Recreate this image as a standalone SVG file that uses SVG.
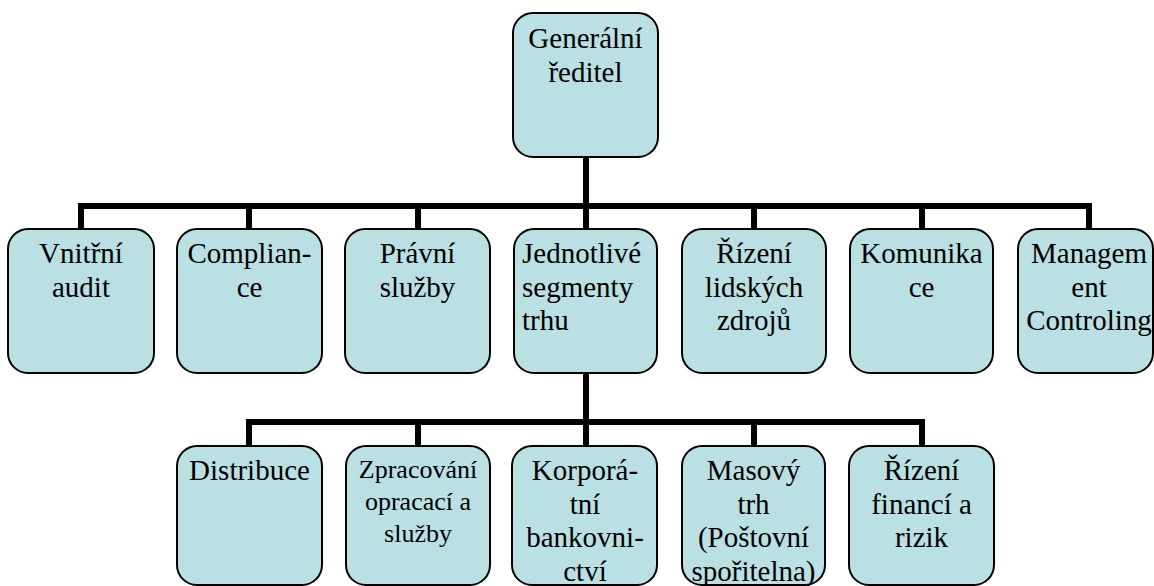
<svg xmlns="http://www.w3.org/2000/svg" width="1154" height="586" viewBox="0 0 1154 586" font-family="Liberation Serif, Times New Roman, serif">
<style>
.box{fill:#BBE0E3;stroke:#000;stroke-width:2}
.t{font-size:29px;fill:#000;text-anchor:middle}
.s{font-size:26px}
.l{text-anchor:start}
.c{fill:none;stroke:#000;stroke-width:6;stroke-linejoin:miter;stroke-linecap:butt}
</style>
<rect width="1154" height="586" fill="#fff"/>
<g id="connectors">
<path class="c" d="M586,157 V206"/>
<path class="c" d="M81,229 V206 H1089 V229"/>
<path class="c" d="M249,206 V229 M418,206 V229 M586,206 V229 M754,206 V229 M922,206 V229"/>
<path class="c" d="M586,373 V422"/>
<path class="c" d="M249,446 V422 H922 V446"/>
<path class="c" d="M418,422 V446 M586,422 V446 M754,422 V446"/>
</g>
<g id="n-reditel">
<rect class="box" x="513" y="13" width="145" height="144" rx="20"/>
<text class="t" x="585.5" y="48">Generální</text>
<text class="t" x="585.5" y="82">ředitel</text>
</g>
<g id="n-audit">
<rect class="box" x="8" y="229" width="146" height="144" rx="20"/>
<text class="t" x="81" y="263">Vnitřní</text>
<text class="t" x="81" y="297">audit</text>
</g>
<g id="n-compliance">
<rect class="box" x="177" y="229" width="145" height="144" rx="20"/>
<text class="t" x="249.5" y="263">Complian-</text>
<text class="t" x="249.5" y="297">ce</text>
</g>
<g id="n-pravni">
<rect class="box" x="345" y="229" width="145" height="144" rx="20"/>
<text class="t" x="417.5" y="263">Právní</text>
<text class="t" x="417.5" y="297">služby</text>
</g>
<g id="n-segmenty">
<rect class="box" x="514" y="229" width="143" height="144" rx="20"/>
<text class="t l" x="522" y="263">Jednotlivé</text>
<text class="t l" x="522" y="296.5">segmenty</text>
<text class="t l" x="522" y="330">trhu</text>
</g>
<g id="n-lidske-zdroje">
<rect class="box" x="682" y="229" width="144" height="144" rx="20"/>
<text class="t" x="754" y="263">Řízení</text>
<text class="t" x="754" y="296.5">lidských</text>
<text class="t" x="754" y="330">zdrojů</text>
</g>
<g id="n-komunikace">
<rect class="box" x="850" y="229" width="143" height="144" rx="20"/>
<text class="t" x="921.5" y="263">Komunika</text>
<text class="t" x="921.5" y="297">ce</text>
</g>
<g id="n-management">
<rect class="box" x="1018" y="229" width="135" height="144" rx="20"/>
<text class="t" x="1089" y="263">Managem</text>
<text class="t" x="1089" y="296.5">ent</text>
<text class="t" x="1089" y="330">Controling</text>
</g>
<g id="n-distribuce">
<rect class="box" x="177" y="446" width="145" height="139" rx="20"/>
<text class="t" x="249.5" y="480">Distribuce</text>
</g>
<g id="n-zpracovani">
<rect class="box" x="346" y="446" width="144" height="139" rx="20"/>
<text class="t s" x="418" y="478">Zpracování</text>
<text class="t s" x="418" y="510">opracací a</text>
<text class="t s" x="418" y="542">služby</text>
</g>
<g id="n-korporatni">
<rect class="box" x="512" y="446" width="145" height="139" rx="20"/>
<text class="t" x="585" y="480">Korporá-</text>
<text class="t" x="585" y="513.5">tní</text>
<text class="t" x="585" y="547">bankovni-</text>
<text class="t" x="585" y="580.5">ctví</text>
</g>
<g id="n-masovy-trh">
<rect class="box" x="682" y="446" width="143" height="139" rx="20"/>
<text class="t" x="753.5" y="480">Masový</text>
<text class="t" x="753.5" y="513.5">trh</text>
<text class="t" x="753.5" y="547">(Poštovní</text>
<text class="t" x="753.5" y="580.5">spořitelna)</text>
</g>
<g id="n-finance">
<rect class="box" x="849" y="446" width="145" height="139" rx="20"/>
<text class="t" x="921.5" y="480">Řízení</text>
<text class="t" x="921.5" y="513.5">financí a</text>
<text class="t" x="921.5" y="547">rizik</text>
</g>
</svg>
